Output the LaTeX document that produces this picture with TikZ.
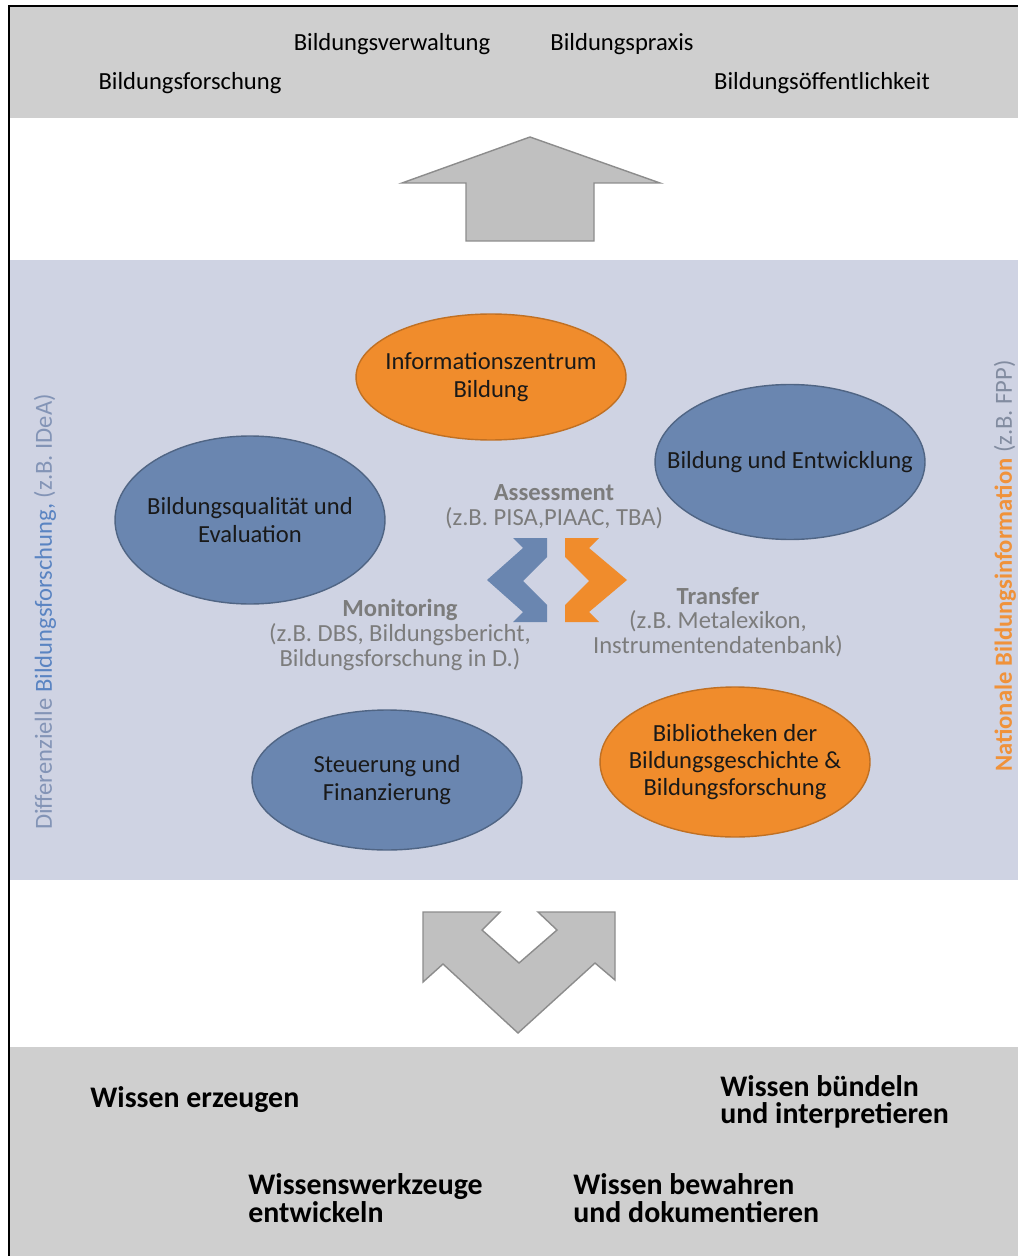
\documentclass[tikz,border=0pt]{standalone}
\usepackage{fontspec}
\setmainfont{Carlito}
\usepackage{tikz}
\usetikzlibrary{shapes,positioning}
\definecolor{bandgray}{HTML}{CFCFCF}
\definecolor{bandblue}{HTML}{CFD3E3}
\definecolor{arrgray}{HTML}{C0C0C0}
\definecolor{elblue}{HTML}{6A86B0}
\definecolor{elorange}{HTML}{F08C2C}
\definecolor{txtgray}{HTML}{7C7C7C}
\definecolor{sideblue}{HTML}{5A84C2}
\definecolor{sidegray}{HTML}{8394B6}
\definecolor{sideorange}{HTML}{F0923A}
\tikzset{ell/.style={ellipse,draw,line width=0.8pt,minimum width=5.4cm,inner xsep=-25pt,inner ysep=0pt,align=center,font=\fontsize{14}{15.5}\selectfont,text=black!90}}
\tikzset{bell/.style={ell,fill=elblue,draw=elblue!75!black}}
\tikzset{oell/.style={ell,fill=elorange,draw=elorange!80!black}}
\tikzset{garr/.style={fill=arrgray,draw=black!45,line width=0.8pt,line join=miter}}
\tikzset{toptxt/.style={font=\fontsize{14}{16}\selectfont,text=black}}
\tikzset{bottxt/.style={anchor=west,align=left,inner xsep=0pt,font=\fontsize{17}{15.5}\selectfont\bfseries,text=black}}
\tikzset{midtxt/.style={align=center,font=\fontsize{14}{14}\selectfont,text=txtgray}}
\tikzset{sidetxt/.style={rotate=90,font=\fontsize{14}{15}\selectfont}}

\begin{document}
\begin{tikzpicture}[x=0.02cm,y=-0.02cm]
    \useasboundingbox (0,0) rectangle (1018,1256);
    \fill[white] (0,0) rectangle (1018,1256);
    \fill[bandgray] (10,7) rectangle (1018,118);
    \fill[bandblue] (10,260) rectangle (1018,880);
    \fill[bandgray] (10,1047) rectangle (1018,1256);
    \draw[line width=1.2pt] (9,1256) -- (9,6) -- (1018,6);

    \node[toptxt] (v) at (392,44) {Bildungsverwaltung};
    \node[toptxt] (p) at (622,44) {Bildungspraxis};
    \node[toptxt] (f) at (190,83) {Bildungsforschung};
    \node[toptxt] (o) at (822,83) {Bildungsöffentlichkeit};

    \draw[garr] (466,241) -- (466,183) -- (402,183) -- (530,137) -- (660,183) -- (594,183) -- (594,241) -- cycle;

    \node[oell,minimum height=2.52cm] (a) at (491,377) {Informationszentrum\\Bildung};
    \node[bell,minimum height=3.1cm] (b) at (790,462) {Bildung und Entwicklung};
    \node[bell,minimum height=3.36cm] (c) at (250,520) {Bildungsqualität und\\Evaluation};
    \node[bell,minimum height=2.8cm] (d) at (387,780) {Steuerung und\\Finanzierung};
    \node[oell,minimum height=3.0cm] (e) at (735,762) {Bibliotheken der\\Bildungsgeschichte \&\\Bildungsforschung};

    \fill[elblue] (547,538) -- (513,538) -- (523,548) -- (487,580) -- (523,612) -- (513,622) -- (547,622) -- (547,605) -- (523,581) -- (547,557) -- cycle;
    \fill[elorange] (565,538) -- (599,538) -- (589,548) -- (627,580) -- (589,612) -- (599,622) -- (565,622) -- (565,605) -- (589,581) -- (565,557) -- cycle;

    \node[midtxt] (s) at (554,507) {\textbf{Assessment}\\(z.B. PISA,PIAAC, TBA)};
    \node[midtxt] (m) at (400,635) {\textbf{Monitoring}\\(z.B. DBS, Bildungsbericht,\\Bildungsforschung in D.)};
    \node[midtxt] (t) at (718,622) {\textbf{Transfer}\\(z.B. Metalexikon,\\Instrumentendatenbank)};

    \node[sidetxt,text=sidegray] (l) at (45,612) {Differenzielle {\color{sideblue}Bildungsforschung,} (z.B. IDeA)};
    \node[sidetxt,text=sidegray!60!gray] (r) at (1005,566) {{\color{sideorange}\bfseries Nationale Bildungsinformation} (z.B. FPP)};

    \draw[garr] (423,912) -- (500,912) -- (482,930) -- (519,963) -- (557,930) -- (538,912) -- (615,912) -- (615,980) -- (595,963) -- (518,1033) -- (443,964) -- (423,982) -- cycle;

    \node[bottxt] (w1) at (90,1100) {Wissen erzeugen};
    \node[bottxt] (w2) at (720,1102) {Wissen bündeln\\und interpretieren};
    \node[bottxt] (w3) at (248,1198) {Wissenswerkzeuge\\entwickeln};
    \node[bottxt] (w4) at (573,1198) {Wissen bewahren\\und dokumentieren};
\end{tikzpicture}
\end{document}
